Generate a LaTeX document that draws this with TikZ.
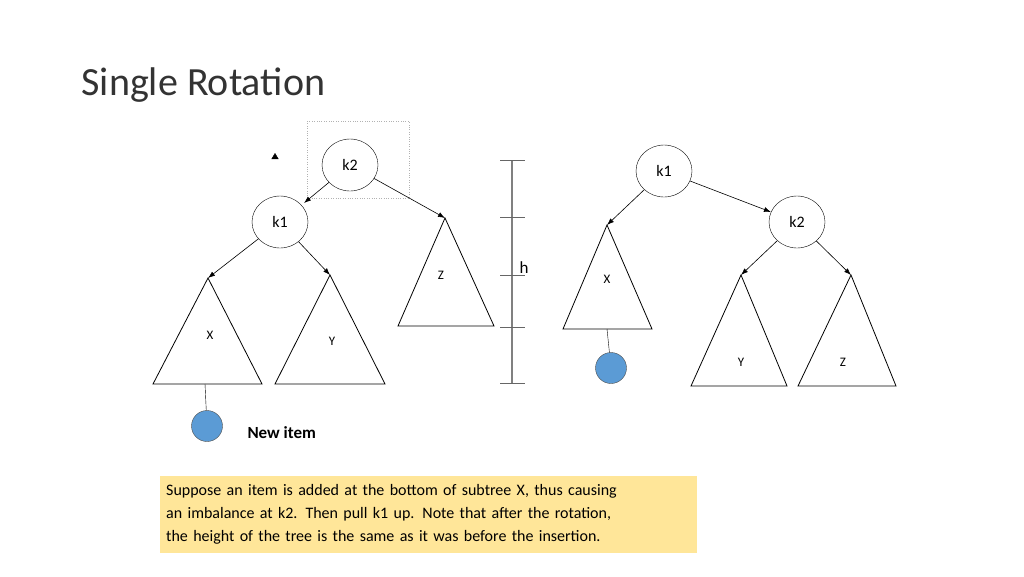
\documentclass[tikz,border=0pt]{standalone}
\usepackage{fontspec}
\setmainfont{Carlito}
\usetikzlibrary{arrows.meta,shapes.geometric}
\begin{document}
\begin{tikzpicture}[x=1pt,y=-1pt,
  key/.style={draw,ellipse,minimum width=56pt,minimum height=52pt,inner sep=0pt,font=\fontsize{16}{18}\selectfont},
  tri/.style={draw,line width=0.8pt},
  lbl/.style={font=\fontsize{13}{15}\selectfont},
  arr/.style={-{Latex[length=7pt,width=5pt]},line width=0.6pt},
  item/.style={circle,draw=black!70,minimum size=31pt,inner sep=0pt,fill={rgb,255:red,91;green,155;blue,213}}]
\useasboundingbox (0,0) rectangle (1024,576);
\node[anchor=west,font=\fontsize{40}{44}\selectfont,text=black!80] (title) at (78,85) {Single Rotation};
% left tree
\draw[gray!60,dotted] (307,121) rectangle (409,198);
\node[key] (lk2) at (350,165) {k2};
\node[key] (lk1) at (280,222) {k1};
\draw[double,double distance=2pt,-{Triangle[length=6pt,width=7pt]}] (275,191) -- (275,153);
\draw[tri] (208,278) coordinate (lxa) -- (262,384) -- (153,384) -- cycle;
\node[lbl] (lx) at (210,335) {X};
\draw[tri] (330,275) coordinate (lya) -- (385,384) -- (275,384) -- cycle;
\node[lbl] (ly) at (332,341) {Y};
\draw[tri] (445,218) coordinate (lza) -- (494,326) -- (398,326) -- cycle;
\node[lbl] (lz) at (441,275) {Z};
\draw[arr] (lk2) -- (304,203);
\draw[arr] (lk2) -- (lza);
\draw[arr] (lk1) -- (lxa);
\draw[arr] (lk1) -- (lya);
\coordinate (lxb) at (205,384);
\node[item] (li) at (207,426) {};
\draw (lxb) -- (li);
\node[font=\fontsize{17}{20}\selectfont\bfseries,anchor=west] (new) at (244,433) {New item};
% height bar
\draw[gray,line width=1.2pt] (512,160) -- (512,383);
\foreach \yy in {160,217,275,327,383} \draw[gray!80!black,line width=1pt] (500,\yy) -- (525,\yy);
\node[font=\fontsize{17}{20}\selectfont] (h) at (524,268) {h};
% right tree
\node[key] (rk1) at (664,171) {k1};
\node[key] (rk2) at (797,222) {k2};
\draw[tri] (607,225) coordinate (rxa) -- (652,329) -- (563,329) -- cycle;
\node[lbl] (rx) at (607,279) {X};
\draw[tri] (741,275) coordinate (rya) -- (787,386) -- (691,386) -- cycle;
\node[lbl] (ry) at (741,362) {Y};
\draw[tri] (851,275) coordinate (rza) -- (896,386) -- (798,386) -- cycle;
\node[lbl] (rz) at (843,362) {Z};
\draw[arr] (rk1) -- (rxa);
\draw[arr] (rk1) -- (rk2);
\draw[arr] (rk2) -- (rya);
\draw[arr] (rk2) -- (rza);
\coordinate (rxb) at (607,329);
\node[item] (ri) at (611,368) {};
\draw (rxb) -- (ri);
% note
\node[fill={rgb,255:red,255;green,230;blue,153},anchor=north west,minimum width=537pt,minimum height=77pt,text width=525pt,align=left,inner sep=6pt,font=\fontsize{16}{23}\selectfont] (note) at (160,476) {Suppose an item is added at the bottom of subtree X, thus causing\\ an imbalance at k2. Then pull k1 up. Note that after the rotation,\\ the height of the tree is the same as it was before the insertion.};
\end{tikzpicture}
\end{document}
